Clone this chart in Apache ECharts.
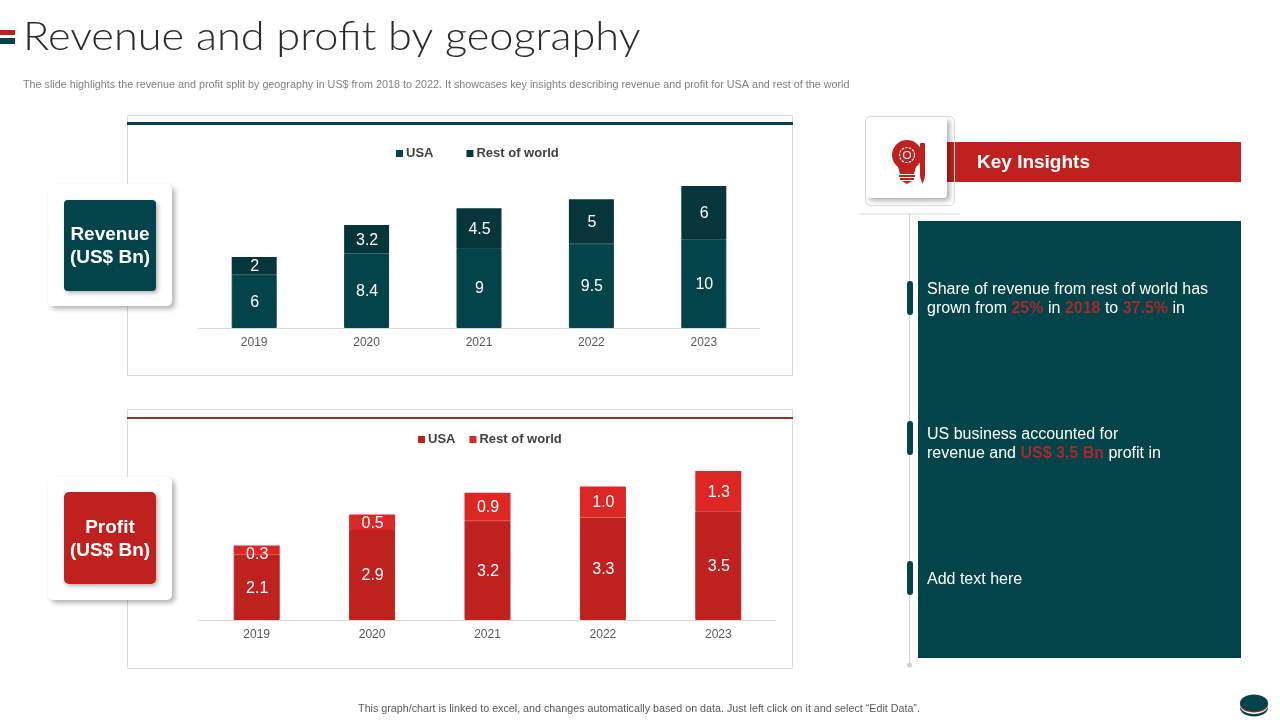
<!DOCTYPE html>
<html>
<head>
    <meta charset="UTF-8">
    <title>Revenue and profit by geography</title>
    <script src="https://cdn.jsdelivr.net/npm/echarts@6/dist/echarts.min.js"></script>
    <style>
        html, body { margin: 0; padding: 0; background: #ffffff; }
        #main { width: 1280px; height: 720px; }
    </style>
</head>
<body>
    <div id="main"></div>
    <script>
        var years = ['2019', '2020', '2021', '2022', '2023'];
        var revenueUsa = [6, 8.4, 9, 9.5, 10];
        var revenueRest = [2, 3.2, 4.5, 5, 6];
        var profitUsa = [2.1, 2.9, 3.2, 3.3, 3.5];
        var profitRest = [0.3, 0.5, 0.9, 1.0, 1.3];
        var profitLabels = ['0.3', '0.5', '0.9', '1.0', '1.3'];

        var TEAL = '#03444a', TEAL_DARK = '#06363b', RED = '#bf221e', RED_LIGHT = '#dc2725';
        var FONT = '"Liberation Sans", Arial, sans-serif';

        function barSeries(name, data, color, xi, width, border, fmt) {
            return {
                name: name, type: 'bar', stack: 's' + xi, xAxisIndex: xi, yAxisIndex: xi,
                data: data, barWidth: width,
                itemStyle: { color: color, borderColor: color, borderWidth: border },
                label: {
                    show: true, position: 'inside', color: '#fff', fontSize: 16, fontFamily: FONT,
                    offset: [0.5, 1],
                    formatter: fmt || function (p) { return String(p.value); }
                }
            };
        }

        function legendOf(left, top, c1, c2, gap) {
            return {
                left: left, top: top, padding: 0, itemWidth: 7, itemHeight: 7, itemGap: gap, icon: 'rect',
                selectedMode: false,
                textStyle: { color: '#404040', fontSize: 13, fontWeight: 'bold', fontFamily: FONT, padding: [0, 0, 0, -2] },
                data: [
                    { name: 'USA', itemStyle: { color: c1, borderWidth: 0 } },
                    { name: 'Rest of world', itemStyle: { color: c2, borderWidth: 0 } }
                ]
            };
        }

        function xAxisOf(gi) {
            return {
                type: 'category', gridIndex: gi, data: years,
                axisTick: { show: false },
                axisLine: { lineStyle: { color: '#d9d9d9' } },
                axisLabel: { color: '#595959', fontSize: 12, fontFamily: FONT, margin: 9 }
            };
        }

        function card(x, y, w, h, r) {
            return {
                type: 'rect', shape: { x: x, y: y, width: w, height: h, r: r },
                style: { fill: '#fff', shadowBlur: 5, shadowOffsetX: 3, shadowOffsetY: 3, shadowColor: 'rgba(0,0,0,0.3)' }
            };
        }
        function box(x, y, w, h, fill, r) {
            return { type: 'rect', shape: { x: x, y: y, width: w, height: h, r: r || 0 }, style: { fill: fill } };
        }
        function shadowBox(x, y, w, h, fill, r) {
            return {
                type: 'rect', shape: { x: x, y: y, width: w, height: h, r: r },
                style: { fill: fill, shadowBlur: 4, shadowOffsetX: 2, shadowOffsetY: 2, shadowColor: 'rgba(0,0,0,0.3)' }
            };
        }
        function frame(x, y, w, h, r) {
            return { type: 'rect', shape: { x: x, y: y, width: w, height: h, r: r || 0 }, style: { fill: 'none', stroke: '#d9d9d9', lineWidth: 1 } };
        }
        function text(x, y, t, size, color, extra) {
            var s = { x: x, y: y, text: t, fontSize: size, fill: color, fontFamily: FONT, textVerticalAlign: 'middle' };
            for (var k in (extra || {})) s[k] = extra[k];
            return { type: 'text', style: s };
        }

        function insight(y, t) {
            return {
                type: 'text',
                style: { x: 927, y: y, text: t, fontFamily: FONT, fontSize: 16, fill: '#fff', lineHeight: 19, rich: { h: { fill: '#a8292a', fontSize: 16, fontWeight: 'bold', fontFamily: FONT, lineHeight: 19 }, p: { fill: '#fff', fontSize: 16, fontFamily: FONT, lineHeight: 19 } } }
            };
        }

        var titleText = text(0, 0, 'Revenue and profit by geography', 40, '#2b2b2b', { fontFamily: 'Lato', fontWeight: 300 });
        titleText.x = 23;
        titleText.y = 37;
        titleText.scaleX = 1.083;

        var shapes = [
            // header
            box(0, 30, 15, 5, RED), box(0, 38, 15, 6, TEAL),
            titleText,
            text(23, 85, 'The slide highlights the revenue and profit split by geography in US$ from 2018 to 2022. It showcases key insights describing revenue and profit for USA and rest of the world', 10.78, '#7f7f7f'),
            // chart frames
            frame(127.5, 115.5, 665, 260), box(127, 122, 666, 3, TEAL),
            frame(127.5, 409.5, 665, 259), box(127, 417, 666, 2, '#a8292a'),
            // left cards
            card(48, 184, 124, 122, 5), shadowBox(64, 200, 92, 91, TEAL, 4),
            text(110, 235, 'Revenue', 19, '#fff', { fontWeight: 'bold', textAlign: 'center' }),
            text(110, 258, '(US$ Bn)', 19, '#fff', { fontWeight: 'bold', textAlign: 'center' }),
            card(48, 477, 124, 123, 5), shadowBox(64, 492, 92, 92, RED, 5),
            text(110, 528, 'Profit', 19, '#fff', { fontWeight: 'bold', textAlign: 'center' }),
            text(110, 551, '(US$ Bn)', 19, '#fff', { fontWeight: 'bold', textAlign: 'center' }),
            // key insights header
            box(947, 142, 294, 40, RED),
            text(977, 162.5, 'Key Insights', 19, '#fff', { fontWeight: 'bold' }),
            { type: 'line', shape: { x1: 859, y1: 214, x2: 960, y2: 214 }, style: { stroke: '#d9d9d9', lineWidth: 1 } },
            { type: 'line', shape: { x1: 909.5, y1: 214, x2: 909.5, y2: 665 }, style: { stroke: '#d0d0d0', lineWidth: 1 } },
            { type: 'circle', shape: { cx: 909.5, cy: 665, r: 2.5 }, style: { fill: '#d0d0d0' } },
            card(866, 117, 81, 81, 4),
            frame(865.5, 116.5, 89, 89, 5),
            // bulb icon
            { type: 'circle', shape: { cx: 907, cy: 155, r: 15 }, style: { fill: RED } },
            { type: 'polygon', shape: { points: [[897, 163], [917, 163], [914, 174], [900, 174]] }, style: { fill: RED } },
            box(899, 175, 16, 2, RED), box(900, 178, 14, 2, RED),
            { type: 'polygon', shape: { points: [[902, 181], [912, 181], [907, 184]] }, style: { fill: RED } },
            { type: 'circle', shape: { cx: 907, cy: 155, r: 7.5 }, style: { fill: 'none', stroke: '#fff', lineWidth: 1.2, lineDash: [2.5, 1.2] } },
            { type: 'circle', shape: { cx: 907, cy: 155, r: 3.5 }, style: { fill: 'none', stroke: '#fff', lineWidth: 1.2 } },
            box(920, 143, 5, 34, RED, 1),
            { type: 'polygon', shape: { points: [[920, 177], [925, 177], [922.5, 184]] }, style: { fill: RED } },
            // insight panel
            box(918, 221, 323, 437, TEAL),
            box(907, 281, 6, 34, TEAL, 3), box(907, 421, 6, 34, TEAL, 3), box(907, 561, 6, 34, TEAL, 3),
            insight(280, '{p|Share of revenue from rest of world has}\n{p|grown from }{h|25%}{p| in }{h|2018}{p| to }{h|37.5%}{p| in}'),
            insight(425, '{p|US business accounted for}\n{p|revenue and }{h|US$ 3.5 Bn}{p| profit in}'),
            insight(570, '{p|Add text here}'),
            // footer
            text(639, 709, 'This graph/chart is linked to excel, and changes automatically based on data. Just left click on it and select \u201cEdit Data\u201d.', 10.72, '#595959', { textAlign: 'center' }),
            // bottom right mark
            { type: 'ellipse', shape: { cx: 1254, cy: 708, rx: 14, ry: 8.5 }, style: { fill: TEAL } },
            { type: 'ellipse', shape: { cx: 1254, cy: 705.5, rx: 14, ry: 8.5 }, style: { fill: '#fff' } },
            { type: 'ellipse', shape: { cx: 1254, cy: 704.5, rx: 14, ry: 8 }, style: { fill: RED } },
            { type: 'ellipse', shape: { cx: 1254, cy: 703, rx: 14, ry: 8.5 }, style: { fill: TEAL } }
        ];

        // the 0.3 label sits low in its thin segment, as in the source slide
        var profitRestData = profitRest.map(function (v, i) {
            return i === 0 ? { value: v, label: { offset: [0.5, 4] } } : v;
        });

        var chart = echarts.init(document.getElementById('main'), null, { renderer: 'canvas' });
        chart.setOption({
            animation: false,
            backgroundColor: '#ffffff',
            legend: [
                legendOf(396, 147, TEAL, TEAL_DARK, 33),
                legendOf(418, 433, RED, RED_LIGHT, 14)
            ],
            grid: [
                { left: 198, top: 186, width: 562, height: 142 },
                { left: 199, top: 471, width: 577, height: 149 }
            ],
            xAxis: [xAxisOf(0), xAxisOf(1)],
            yAxis: [
                { type: 'value', gridIndex: 0, min: 0, max: 16, show: false },
                { type: 'value', gridIndex: 1, min: 0, max: 4.8, show: false }
            ],
            series: [
                barSeries('USA', revenueUsa, TEAL, 0, 45, 1),
                barSeries('Rest of world', revenueRest, TEAL_DARK, 0, 45, 0),
                barSeries('USA', profitUsa, RED, 1, 46, 1),
                barSeries('Rest of world', profitRestData, RED_LIGHT, 1, 46, 0, function (p) { return profitLabels[p.dataIndex]; })
            ],
            graphic: { elements: shapes }
        });
    </script>
</body>
</html>
